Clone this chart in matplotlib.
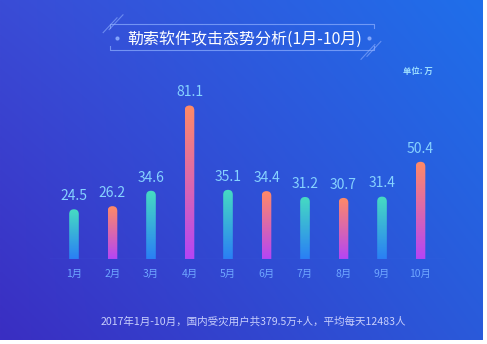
import matplotlib
matplotlib.use("Agg")
import matplotlib.pyplot as plt
import numpy as np
from matplotlib.colors import to_rgb, LinearSegmentedColormap
from matplotlib.patches import FancyBboxPatch

plt.rcParams["font.family"] = ["Noto Sans CJK SC", "DejaVu Sans"]

months = ["1月", "2月", "3月", "4月", "5月", "6月", "7月", "8月", "9月", "10月"]
values = [24.5, 26.2, 34.6, 81.1, 35.1, 34.4, 31.2, 30.7, 31.4, 50.4]
title = "勒索软件攻击态势分析(1月-10月)"
unit = "单位: 万"
footer = "2017年1月-10月，国内受灾用户共379.5万+人，平均每天12483人"

W, H = 487, 344
fig = plt.figure(figsize=(W / 100, H / 100), dpi=100)
fig.patch.set_facecolor("white")

# background gradient (four corners blended)
bg = fig.add_axes([0, 4 / H, 483 / W, 340 / H])
bg.set_axis_off()
tl, tr = np.array(to_rgb("#3a4cd6")), np.array(to_rgb("#1f6fea"))
bl, br = np.array(to_rgb("#3a2ec2")), np.array(to_rgb("#2a5ada"))
u = np.linspace(0, 1, 200)[None, :, None]
v = np.linspace(0, 1, 150)[:, None, None]
img = (1 - v) * ((1 - u) * tl + u * tr) + v * ((1 - u) * bl + u * br)
bg.imshow(img, extent=(0, W, H, 0), aspect="auto")
bg.set_xlim(0, W)
bg.set_ylim(H, 0)

# title frame decoration
lc = "#8fb0ff"
bg.plot([111, 111, 377, 377], [28, 24, 24, 28], color=lc, lw=0.8, alpha=0.7)
bg.plot([111, 111, 377, 377], [47, 51, 51, 47], color=lc, lw=0.8, alpha=0.7)
bg.plot([104, 118], [33, 18], color=lc, lw=0.8, alpha=0.6)
bg.plot([110, 124], [30, 15], color=lc, lw=0.8, alpha=0.6)
bg.plot([364, 378], [60, 45], color=lc, lw=0.8, alpha=0.6)
bg.plot([370, 384], [57, 42], color=lc, lw=0.8, alpha=0.6)
bg.plot([118, 372], [38, 38], "o", color=lc, ms=2, alpha=0.8)

fig.text(245 / W, 1 - 39.5 / H, title, color="white", fontsize=11.5,
         ha="center", va="center")
fig.text(418 / W, 1 - 71 / H, unit, color="#9fe0ff", fontsize=6,
         ha="center", va="center", fontweight="bold")
fig.text(253 / W, 1 - 322 / H, footer, color="#c8cffc", fontsize=7.6,
         ha="center", va="center")

# chart
ax = fig.add_axes([50 / W, 85 / H, 395 / W, 165 / H])
ax.set_axis_off()
x = np.arange(len(values))
ax.set_xlim(-0.623, 9.636)
ax.set_ylim(0, 90)
ax.axhline(0, color="#4f78f0", lw=0.8)

bars = ax.bar(x, values, width=0.25, color="none")

teal = LinearSegmentedColormap.from_list("teal", ["#2a7ff5", "#46dcc2"])
pink = LinearSegmentedColormap.from_list("pink", ["#b545f5", "#ff8a66"])
grad = np.linspace(0, 1, 100)[:, None]

p0 = ax.transData.transform((0, 0))
p1 = ax.transData.transform((1, 1))
aspect = (p1[0] - p0[0]) / (p1[1] - p0[1])

for i, b in enumerate(bars):
    bx, bw, bh = b.get_x(), b.get_width(), b.get_height()
    ry = bw / 2 * aspect
    top = bh + ry
    clip = FancyBboxPatch((bx, -ry), bw, top + ry,
                          boxstyle=f"round,pad=0,rounding_size={bw / 2}",
                          mutation_aspect=aspect, transform=ax.transData,
                          facecolor="none", edgecolor="none")
    ax.add_patch(clip)
    cmap = teal if i % 2 == 0 else pink
    im = ax.imshow(grad, cmap=cmap, origin="lower", aspect="auto",
                   extent=(bx, bx + bw, 0, top))
    im.set_clip_path(clip)
    ax.annotate(f"{values[i]}", (x[i], top), xytext=(0, 4.5),
                textcoords="offset points", ha="center", va="bottom",
                color="#86d2ff", fontsize=10)
    ax.annotate(months[i], (x[i], 0), xytext=(0, -7.5),
                textcoords="offset points", ha="center", va="top",
                color="#6fa6ff", fontsize=7.5)

ax.set_xlim(-0.623, 9.636)
ax.set_ylim(0, 90)

fig.savefig("out.png", dpi=100)
